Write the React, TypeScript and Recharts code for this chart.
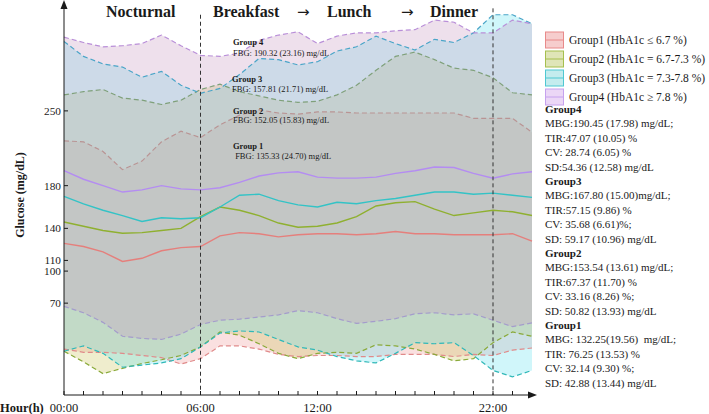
import React from "react"
import { Area, ComposedChart, Line, ReferenceLine, XAxis, YAxis } from "recharts"

// hourly slots along the x axis (25 points, 24 intervals)
const HOURS = [0, 1, 2, 3, 4, 5, 6, 7, 8, 9, 10, 11, 12, 13, 14, 15, 16, 17, 18, 19, 20, 21, 22, 23, 24]
const X_TICKS = [0, 1, 2, 3, 4, 5, 6, 7, 8, 9, 10, 11, 12, 13, 14, 15, 16, 17, 18, 19, 20, 21, 22, 23]
const X_LABEL_AT = [0, 7, 13, 22]
const X_LABELS = ["00:00", "06:00", "12:00", "22:00"]
const Y_TICKS = [70, 100, 110, 140, 180, 250]

// Group1 (HbA1c <= 6.7 %)
const G1_MEAN = [126, 123, 118, 109, 112, 119, 122, 123, 133, 136, 135, 132, 134, 135, 135, 134, 135, 137, 135, 135, 134, 134, 134, 135, 128]
const G1_UP = [222, 221, 212, 195, 203, 221, 231, 225, 237, 246, 251, 248, 247, 249, 249, 248, 248, 248, 248, 248, 248, 243, 243, 243, 230]
const G1_LO = [27, 24, 24, 23, 21, 19, 13, 18, 30, 30, 27, 22, 20, 21, 21, 20, 20, 22, 22, 22, 20, 22, 21, 26, 28]
// Group2 (6.7-7.3 %)
const G2_MEAN = [146, 142, 138, 135.5, 136, 138, 140, 151, 160, 157, 152, 145, 141, 142, 145, 151, 161, 164, 165, 158, 152, 154.5, 157, 155.5, 152]
const G2_UP = [265, 268, 270, 262, 260, 256, 260, 270, 275, 268, 264, 260, 258, 259, 265, 274, 288, 301, 305, 298, 290, 288, 281, 267, 265]
const G2_LO = [25, 15, 4, 9, 13.5, 17, 21, 29, 43, 40, 32, 23, 18, 23, 24, 23, 31, 30, 27, 22, 16, 18, 33, 43, 39]
// Group3 (7.3-7.8 %)
const G3_MEAN = [170, 163, 157, 152, 146.5, 150, 149, 150, 160, 171, 172, 166, 162, 160, 164.5, 163, 166, 168, 171, 174, 174, 172, 173, 171, 169]
const G3_UP = [315, 301, 294, 291, 281.5, 287, 274, 266.5, 271, 284, 299, 298, 293, 296, 306, 310, 320, 313, 307, 317, 314, 323, 340, 340, 331.5]
const G3_LO = [25, 30, 23, 10, 12, 14, 18, 29, 42, 44, 43, 36, 29, 26, 20, 16, 14, 23, 33, 32, 33, 21, 7, 1, 7]
// Group4 (>= 7.8 %)
const G4_MEAN = [194, 186, 180, 174, 176, 180, 177, 176, 178, 183, 189, 192, 193, 188, 187, 187, 188, 191.5, 194, 197.5, 197, 191.5, 187, 191, 193]
const G4_UP = [319, 314, 310, 311, 313, 321, 311, 302, 301, 304, 316, 321, 324, 313, 320, 323, 323, 325, 326, 335, 333, 323, 323, 335, 331.5]
const G4_LO = [67, 61, 52, 39, 37, 36, 41, 50, 54, 55, 57, 59, 63, 61, 55.5, 51, 53, 55.5, 60, 61, 59, 60, 54, 48, 51.5]

const LEGEND_LABELS = ["Group1 (HbA1c \u2264 6.7 %)", "Group2 (HbA1c = 6.7-7.3 %)", "Group3 (HbA1c = 7.3-7.8 %)", "Group4 (HbA1c  \u2265 7.8 %)"]
const FBG_TITLES = ["Group 4", "Group 3", "Group 2", "Group 1"]
const FBG_TEXT = ["FBG: 190.32 (23.16) mg/dL", "FBG: 157.81 (21.71) mg/dL", "FBG: 152.05 (15.83) mg/dL", " FBG: 135.33 (24.70) mg/dL"]
const STATS = [
  ["Group4", "MBG:190.45 (17.98) mg/dL;", "TIR:47.07 (10.05) %", "CV: 28.74 (6.05) %", "SD:54.36 (12.58) mg/dL"],
  ["Group3", "MBG:167.80 (15.00)mg/dL;", "TIR:57.15 (9.86) %", "CV: 35.68 (6.61)%;", "SD: 59.17 (10.96) mg/dL"],
  ["Group2", "MBG:153.54 (13.61) mg/dL;", "TIR:67.37 (11.70) %", "CV: 33.16 (8.26) %;", "SD: 50.82 (13.93) mg/dL"],
  ["Group1", "MBG: 132.25(19.56)  mg/dL;", "TIR: 76.25 (13.53) %", "CV: 32.14 (9.30) %;", "SD: 42.88 (13.44) mg/dL"],
]

const SERIF = "'Times New Roman', 'Liberation Serif', serif"
const INK = "#1a1a1a"

const GROUPS = [
  { key: "g1", line: "#e57f7c", upC: "#b99494", loC: "#e08a8a", band: "#ee9898", swatch: "#f6cdcd", edge: "#e88a8a", mean: G1_MEAN, up: G1_UP, lo: G1_LO },
  { key: "g2", line: "#8fb030", upC: "#7fa07a", loC: "#8aaa3a", band: "#cbc55b", swatch: "#dfe5b8", edge: "#a6bf4e", mean: G2_MEAN, up: G2_UP, lo: G2_LO },
  { key: "g3", line: "#33c3c6", upC: "#4aa5c8", loC: "#30b8b8", band: "#64e1f0", swatch: "#c4ecee", edge: "#4fc8d2", mean: G3_MEAN, up: G3_UP, lo: G3_LO },
  { key: "g4", line: "#b48cf2", upC: "#b98fd8", loC: "#a49ccc", band: "#c898c0", swatch: "#ebd7f6", edge: "#c6a2ee", mean: G4_MEAN, up: G4_UP, lo: G4_LO },
]

const data = HOURS.map((h, i) => {
  const row: Record<string, any> = { h }
  GROUPS.forEach(g => {
    row[g.key] = g.mean[i]
    row[g.key + "Up"] = g.up[i]
    row[g.key + "Lo"] = g.lo[i]
    row[g.key + "Band"] = [g.lo[i], g.up[i]]
  })
  return row
})

const XTick = (props: any) => {
  const { x, y, payload } = props
  const idx = X_LABEL_AT.indexOf(payload.value)
  return (
    <g>
      <line x1={x} x2={x} y1={y} y2={y - 4} stroke={INK} strokeWidth={1} />
      {idx >= 0 && (
        <text x={x} y={y + 17} textAnchor="middle" fontFamily={SERIF} fontSize={12.5} fill={INK}>
          {X_LABELS[idx]}
        </text>
      )}
    </g>
  )
}

const YTick = (props: any) => {
  const { x, y, payload } = props
  return (
    <g>
      <line x1={x} x2={x + 4} y1={y} y2={y} stroke={INK} strokeWidth={1} />
      <text x={x - 3} y={y + 4} textAnchor="end" fontFamily={SERIF} fontSize={11.3} fill={INK}>
        {payload.value}
      </text>
    </g>
  )
}

export default function App() {
  return (
    <div style={{ position: "absolute", left: 0, top: 0, width: 709, height: 414, background: "#fff" }}>
      <ComposedChart width={709} height={414} data={data} margin={{ top: 3, right: 177, bottom: 0, left: 14 }}>
        <XAxis
          dataKey="h" type="number" domain={[0, 24]} ticks={X_TICKS} interval={0}
          height={19} tickSize={0} tickMargin={0} tickLine={false}
          axisLine={{ stroke: INK, strokeWidth: 1 }} tick={XTick}
        />
        <YAxis
          type="number" domain={[-16, 351]} ticks={Y_TICKS} interval={0} allowDataOverflow
          width={50} tickSize={0} tickMargin={0} tickLine={false}
          axisLine={{ stroke: INK, strokeWidth: 1 }} tick={YTick}
        />

        {GROUPS.map(g => (
          <Area key={g.key + "Band"} dataKey={g.key + "Band"} type="linear" stroke="none"
            fill={g.band} fillOpacity={0.3} isAnimationActive={false} />
        ))}

        {/* dashed band edges, muted like the print */}
        {GROUPS.map(g => (
          <Line key={g.key + "Up"} dataKey={g.key + "Up"} type="linear" stroke={g.upC} strokeWidth={1.2}
            strokeDasharray="5 3" dot={false} isAnimationActive={false} />
        ))}
        {GROUPS.map(g => (
          <Line key={g.key + "Lo"} dataKey={g.key + "Lo"} type="linear" stroke={g.loC} strokeWidth={1.2}
            strokeDasharray="5 3" dot={false} isAnimationActive={false} />
        ))}

        {GROUPS.map(g => (
          <Line key={g.key} dataKey={g.key} type="linear" stroke={g.line} strokeWidth={1.4}
            dot={false} isAnimationActive={false} />
        ))}

        <ReferenceLine segment={[{ x: 7, y: 340 }, { x: 7, y: -16 }]} stroke="#333" strokeDasharray="4 3" strokeWidth={1} />
        <ReferenceLine segment={[{ x: 22, y: 346 }, { x: 22, y: -16 }]} stroke="#333" strokeDasharray="4 3" strokeWidth={1} />
      </ComposedChart>

      <svg width={709} height={414} style={{ position: "absolute", left: 0, top: 0, pointerEvents: "none" }}>
        {/* axis arrow heads */}
        <polygon points="64,0 60.5,9 67.5,9" fill={INK} />
        <polygon points="537,395 528,391.5 528,398.5" fill={INK} />

        <g fontFamily={SERIF} fontWeight="bold" fontSize={16} fill={INK}>
          <text x={106} y={17}>Nocturnal</text>
          <text x={213} y={17}>Breakfast</text>
          <text x={327} y={17}>Lunch</text>
          <text x={430} y={17}>Dinner</text>
        </g>
        <g fontFamily="'DejaVu Sans', sans-serif" fontSize={15} fill={INK}>
          <text x={297} y={17}>{"\u2192"}</text>
          <text x={401} y={17}>{"\u2192"}</text>
        </g>

        <g fontFamily={SERIF} fontSize={8.5} fill={INK}>
          {FBG_TITLES.map((t, i) => (
            <text key={t} x={[233, 232, 233, 233][i]} y={[45, 82, 114, 149][i]} fontWeight="bold">{t}</text>
          ))}
          {FBG_TEXT.map((t, i) => (
            <text key={t} x={[233, 232, 233, 233][i]} y={[56, 92, 123, 159][i]} style={{ whiteSpace: "pre" }}>{t}</text>
          ))}
        </g>

        <text transform="translate(24,195) rotate(-90)" textAnchor="middle" fontFamily={SERIF}
          fontWeight="bold" fontSize={12} fill={INK}>Glucose (mg/dL)</text>
        <text x={0} y={412} fontFamily={SERIF} fontWeight="bold" fontSize={12.5} fill={INK}>Hour(h)</text>

        {GROUPS.map((g, i) => {
          const cy = 40 + i * 19
          return (
            <g key={g.key}>
              <rect x={545.5} y={cy - 8} width={18} height={16} fill={g.swatch} stroke={g.edge} strokeWidth={1} />
              <line x1={545.5} x2={563.5} y1={cy} y2={cy} stroke={g.edge} strokeWidth={1} />
              <text x={569} y={cy + 4} fontFamily={SERIF} fontSize={11.5} fill={INK}>{LEGEND_LABELS[i]}</text>
            </g>
          )
        })}

        <g fontFamily={SERIF} fontSize={11} fill={INK}>
          {STATS.flatMap((block, b) =>
            block.map((t, j) => (
              <text key={b + "-" + j} x={545} y={113 + (b * 5 + j) * 14.4}
                fontWeight={j === 0 ? "bold" : "normal"} style={{ whiteSpace: "pre" }}>{t}</text>
            ))
          )}
        </g>
      </svg>
    </div>
  )
}
